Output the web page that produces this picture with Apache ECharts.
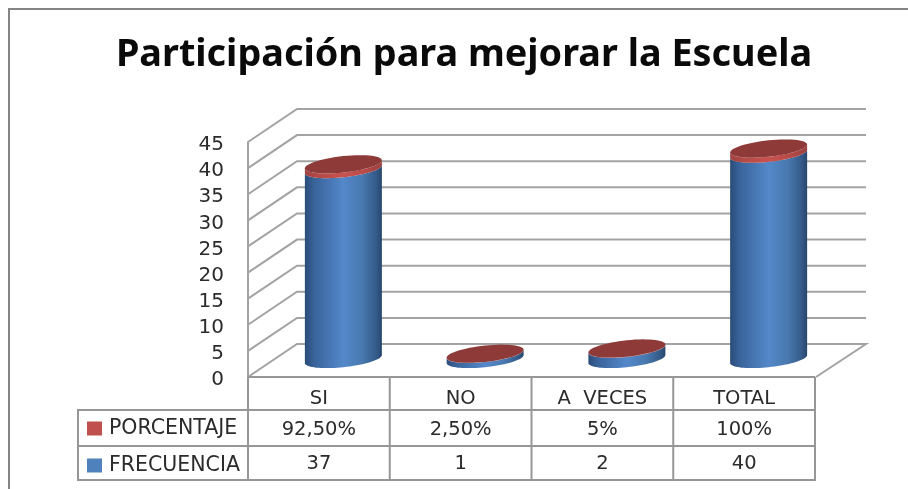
<!DOCTYPE html>
<html>
<head>
<meta charset="utf-8">
<script src="https://cdn.jsdelivr.net/npm/echarts@6/dist/echarts.min.js"></script>
<style>html,body{margin:0;padding:0;background:#fff}#c{width:908px;height:489px}</style>
</head>
<body>
<div id="c"></div>
<script>
const titleText = 'Participación para mejorar la Escuela';
const categories = ['SI', 'NO', 'A  VECES', 'TOTAL'];
const frecuencia = [37, 1, 2, 40];
const porcentaje = [0.925, 0.025, 0.05, 1];
const porcentajeLabels = ['92,50%', '2,50%', '5%', '100%'];
const frecuenciaLabels = ['37', '1', '2', '40'];
const yTicks = [0, 5, 10, 15, 20, 25, 30, 35, 40, 45];

const FONT = '"Noto Sans", sans-serif';
const TFONT = '"DejaVu Sans", sans-serif';
const GRAY = '#a3a3a3';
const TGRAY = '#969696';
const TEXT = '#2b2b2b';
const G = { l: 248, r: 815, t: 142, b: 377 };
const DEPTH = { x: 49, y: -33 };
const ROWS = [410, 446, 480];
const TABLE_LEFT = 78;
const CYL = { a: 38.5, b: 8.2, s: 4, dx: 24.5, baseY: 359, k: 0.983 };

function ell(cx, cy, from, to, n) {
  const pts = [];
  for (let i = 0; i <= n; i++) {
    const t = from + (to - from) * i / n;
    pts.push([cx + CYL.a * Math.cos(t), cy + CYL.b * Math.sin(t) - CYL.s * Math.cos(t)]);
  }
  return pts;
}
function cylY(api, v) {
  return CYL.baseY - CYL.k * (api.coord([0, 0])[1] - api.coord([0, v])[1]);
}
function bodyFill(stops) {
  return new echarts.graphic.LinearGradient(0, 0, 1, 0,
    stops.map(s => ({ offset: s[0], color: s[1] })));
}
const BLUE = [[0, '#2a4c79'], [0.12, '#39639a'], [0.5, '#5488ca'], [0.75, '#4878ae'], [0.93, '#345a88'], [1, '#27466c']];
const RED = [[0, '#a04341'], [0.2, '#b54a47'], [0.5, '#c9524f'], [0.8, '#b54a47'], [1, '#9a403e']];

function segment(api, from, to, stops) {
  const cx = api.coord([api.value(0), 0])[0] + CYL.dx;
  const y0 = cylY(api, from), y1 = cylY(api, to);
  const pts = ell(cx, y0, Math.PI, 0, 40).concat(ell(cx, y1, 0, Math.PI, 40));
  return { cx, y1, el: { type: 'polygon', shape: { points: pts }, style: { fill: bodyFill(stops) } } };
}
function cellText(x, y, text) {
  return { type: 'text', style: { x, y, text, fill: TEXT, font: '19.5px ' + TFONT, align: 'center', verticalAlign: 'middle' } };
}

const wallLines = function (params, api) {
  const p = api.coord([0, api.value(0)]);
  const y = p[1];
  const pts = [[G.l, y], [G.l + DEPTH.x, y + DEPTH.y], [G.r + DEPTH.x + 2, y + DEPTH.y]];
  if (api.value(0) === 0) pts.push([G.r + 1, y]);
  return { type: 'polyline', shape: { points: pts }, style: { stroke: GRAY, lineWidth: 2, fill: null } };
};

const frecuenciaSeries = function (params, api) {
  const seg = segment(api, 0, api.value(1), BLUE);
  const x = api.coord([api.value(0), 0])[0];
  return { type: 'group', children: [seg.el, cellText(x, (ROWS[1] + ROWS[2]) / 2 + 1, frecuenciaLabels[params.dataIndex])] };
};
const porcentajeSeries = function (params, api) {
  const base = api.value(1), top = base + api.value(2);
  const seg = segment(api, base, top, RED);
  const x = api.coord([api.value(0), 0])[0];
  return { type: 'group', children: [
    seg.el,
    { type: 'polygon', shape: { points: ell(seg.cx, seg.y1, 0, Math.PI * 2, 60) }, style: { fill: '#8e3a39' } },
    cellText(x, (ROWS[0] + ROWS[1]) / 2 + 2, porcentajeLabels[params.dataIndex])
  ] };
};

const tableLines = [];
function line(x1, y1, x2, y2) {
  tableLines.push({ type: 'line', z: 5, shape: { x1, y1, x2, y2 }, style: { stroke: TGRAY, lineWidth: 2 } });
}
line(G.l, G.b, G.r, G.b);
ROWS.forEach(y => line(TABLE_LEFT - 1, y, G.r + 1, y));
line(TABLE_LEFT, ROWS[0], TABLE_LEFT, ROWS[2]);
const bandW = (G.r - G.l) / categories.length;
categories.forEach((c, i) => line(G.l + bandW * i, G.b, G.l + bandW * i, ROWS[2]));
line(G.r, G.b, G.r, ROWS[2]);
// outer chart frame: left and top edges only, the others fall outside the picture
const frame = [
  { type: 'polyline', z: 5, shape: { points: [[9, 489], [9, 9], [908, 9]] }, style: { stroke: '#858585', lineWidth: 2, fill: null } }
];

const chart = echarts.init(document.getElementById('c'), null, { renderer: 'canvas' });
chart.setOption({
  animation: false,
  backgroundColor: '#ffffff',
  title: {
    text: titleText, left: 459, top: 31, textAlign: 'center',
    textStyle: { fontFamily: FONT, fontWeight: 'bold', fontSize: 37.8, color: '#0a0a0a' }
  },
  legend: {
    show: true, orient: 'vertical', left: 87, top: 418,
    data: ['PORCENTAJE', 'FRECUENCIA'], icon: 'rect',
    itemWidth: 15, itemHeight: 14, itemGap: 16, padding: 0, selectedMode: false,
    textStyle: { fontFamily: TFONT, fontSize: 20.5, lineHeight: 14, color: TEXT, padding: [0, 0, 0, 2] }
  },
  grid: { left: G.l, top: G.t, width: G.r - G.l, height: G.b - G.t },
  xAxis: {
    type: 'category', data: categories,
    axisLine: { show: false }, axisTick: { show: false },
    axisLabel: { fontFamily: TFONT, fontSize: 19.5, color: TEXT, margin: 12 }
  },
  yAxis: {
    type: 'value', min: 0, max: 45, interval: 5,
    axisLine: { show: true, lineStyle: { color: GRAY, width: 2 } },
    axisTick: { show: false }, splitLine: { show: false },
    axisLabel: { fontFamily: TFONT, fontSize: 20, color: TEXT, margin: 24, padding: [0, 0, 0, 0], lineHeight: 26, verticalAlign: 'top', align: 'right' , padding: [-10, 0, 0, 0] }
  },
  series: [
    { type: 'custom', name: 'walls', renderItem: wallLines, z: 1, silent: true,
      encode: { y: 0 }, data: yTicks.map(v => [v]) },
    { type: 'custom', name: 'FRECUENCIA', renderItem: frecuenciaSeries, z: 3, itemStyle: { color: '#4f81bd' },
      encode: { x: 0, y: 1 }, data: frecuencia.map((v, i) => [i, v]) },
    { type: 'custom', name: 'PORCENTAJE', renderItem: porcentajeSeries, z: 4, itemStyle: { color: '#c0504d' },
      encode: { x: 0, y: 1 }, data: porcentaje.map((v, i) => [i, frecuencia[i], v]) }
  ],
  graphic: tableLines.concat(frame)
});
</script>
</body>
</html>
